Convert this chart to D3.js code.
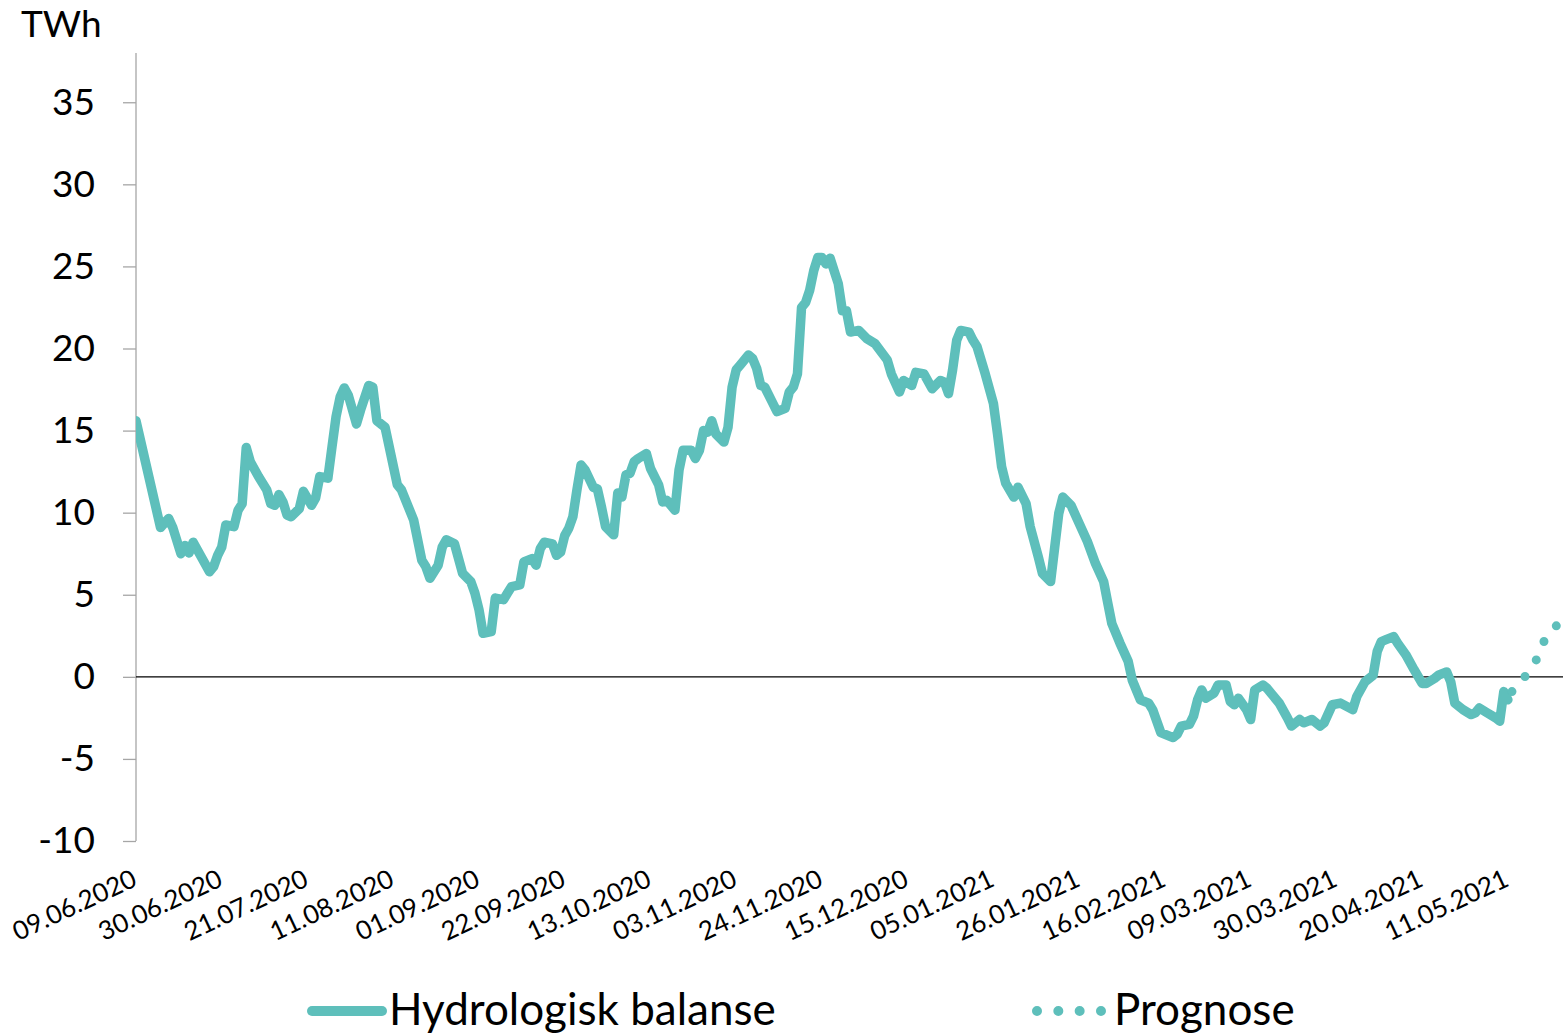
<!DOCTYPE html>
<html>
<head>
<meta charset="utf-8">
<script src="https://cdn.jsdelivr.net/npm/d3@7"></script>
<style>
  html, body { margin: 0; padding: 0; background: #fff; }
  svg { display: block; font-family: Lato, "Open Sans", sans-serif; }
</style>
</head>
<body>
<svg id="chart" width="1563" height="1034"></svg>
<script>
// ---------- data ----------
const startDate = "09.06.2020";
const hydroDays = [0,6,8,9,11,12,13,14,16,18,19,20,21,22,24,25,26,27,28,30,32,33,34,35,36,37,38,40,41,43,44,45,47,48,49,50,51,52,54,55,57,58,59,61,64,65,68,70,71,72,74,75,76,78,80,82,83,84,85,87,88,90,91,92,94,95,97,98,99,100,102,103,104,105,106,107,108,109,110,112,113,114,115,117,118,119,120,121,122,123,125,126,128,129,130,132,133,134,136,137,138,139,140,141,142,144,145,146,147,148,150,151,152,153,154,156,157,159,160,161,162,163,164,165,166,167,168,169,170,172,173,174,175,177,179,181,184,185,187,188,190,191,193,195,197,198,199,200,201,202,204,205,206,208,210,211,212,213,215,216,218,219,221,222,224,226,227,229,231,233,235,237,238,239,241,243,244,246,248,249,250,251,254,255,256,258,259,260,261,262,264,265,267,268,269,270,272,273,274,276,277,278,280,282,283,285,286,288,290,291,293,295,298,299,301,303,304,305,306,308,309,311,313,315,316,318,319,321,322,323,325,327,328,329,331,333,334,335,336];
const hydroValues = [15.6,9.1,9.65,9.1,7.5,8.0,7.55,8.2,7.3,6.4,6.7,7.4,7.9,9.25,9.15,10.15,10.55,13.97,13.1,12.2,11.4,10.55,10.45,11.1,10.65,9.85,9.75,10.25,11.3,10.45,10.9,12.2,12.1,14.0,15.85,17.05,17.6,17.15,15.4,16.25,17.75,17.65,15.6,15.2,11.7,11.4,9.55,7.1,6.7,6.0,6.8,7.9,8.35,8.1,6.3,5.8,5.1,4.1,2.65,2.75,4.8,4.7,5.1,5.5,5.6,7.0,7.2,6.8,7.8,8.2,8.1,7.4,7.6,8.6,9.05,9.75,11.4,12.9,12.6,11.55,11.45,10.35,9.15,8.65,11.2,10.95,12.3,12.4,13.1,13.3,13.6,12.7,11.7,10.65,10.75,10.15,12.6,13.8,13.8,13.3,13.8,15.0,14.9,15.6,14.8,14.3,15.2,17.65,18.7,19.0,19.6,19.4,18.8,17.75,17.65,16.65,16.15,16.35,17.35,17.65,18.45,22.5,22.8,23.55,24.75,25.55,25.55,25.15,25.5,23.95,22.3,22.3,21.0,21.1,20.6,20.3,19.3,18.45,17.35,18.05,17.75,18.55,18.45,17.55,18.05,17.95,17.25,18.7,20.5,21.1,21.0,20.5,20.1,18.45,16.65,14.8,12.8,11.8,10.95,11.55,10.55,9.15,7.3,6.3,5.8,9.95,10.95,10.45,9.35,8.25,6.9,5.8,4.5,3.25,2.05,0.95,-0.2,-1.4,-1.6,-2.0,-2.7,-3.4,-3.7,-3.5,-3.0,-2.9,-2.4,-1.4,-0.8,-1.3,-1.0,-0.5,-0.5,-1.5,-1.7,-1.3,-2.0,-2.6,-0.8,-0.5,-0.7,-1.0,-1.6,-2.5,-3.0,-2.6,-2.8,-2.6,-3.0,-2.8,-1.7,-1.6,-2.0,-1.2,-0.3,0.1,1.55,2.15,2.25,2.45,2.05,1.35,0.45,-0.4,-0.4,-0.1,0.1,0.3,-0.3,-1.6,-2.0,-2.3,-2.2,-1.9,-2.2,-2.5,-2.7,-0.9,-1.4];
const prognoseDays = [337,340,343,345,348,349];
const prognoseValues = [-0.9,-0.05,1.05,2.25,3.15,3.35];
const xTickLabels = ["09.06.2020","30.06.2020","21.07.2020","11.08.2020","01.09.2020","22.09.2020","13.10.2020","03.11.2020","24.11.2020","15.12.2020","05.01.2021","26.01.2021","16.02.2021","09.03.2021","30.03.2021","20.04.2021","11.05.2021"];
const yTicks = [-10,-5,0,5,10,15,20,25,30,35];
const yDomain = [-10, 38];
const xSpanDays = 349.5;
const seriesNames = ["Hydrologisk balanse", "Prognose"];
const unitLabel = "TWh";

// ---------- setup ----------
const color = "#5ebfbb";
const svg = d3.select("#chart");
const parse = d3.utcParse("%d.%m.%Y");
const t0 = parse(startDate);
const dayToDate = d => new Date(t0.getTime() + d * 864e5);

const plot = { left: 136, right: 1563, top: 53, bottom: 841 };
const x = d3.scaleUtc().domain([t0, dayToDate(xSpanDays)]).range([plot.left, plot.right]);
const y = d3.scaleLinear().domain(yDomain).range([plot.bottom, plot.top]);

const hydro = hydroDays.map((d, i) => ({ date: dayToDate(d), value: hydroValues[i] }));
const prog = prognoseDays.map((d, i) => ({ date: dayToDate(d), value: prognoseValues[i] }));

svg.append("defs").append("clipPath").attr("id", "clip")
  .append("rect").attr("x", plot.left).attr("y", 0)
  .attr("width", plot.right - plot.left + 10).attr("height", 1034);

// y axis
const yAxis = svg.append("g")
  .attr("transform", `translate(${plot.left},0)`)
  .call(d3.axisLeft(y).tickValues(yTicks).tickSize(13).tickPadding(28).tickSizeOuter(0)
    .tickFormat(d => String(d)));
yAxis.select(".domain").attr("stroke", "#a6a6a6").attr("stroke-width", 1.3)
  .attr("d", `M0,${plot.top}V${plot.bottom}`);
yAxis.selectAll(".tick line").attr("stroke", "#a6a6a6").attr("stroke-width", 1.3);
yAxis.selectAll(".tick text").attr("font-size", 37).attr("fill", "#000")
  .attr("font-family", "Lato, sans-serif");

// zero line
svg.append("line")
  .attr("x1", plot.left).attr("x2", plot.right)
  .attr("y1", y(0)).attr("y2", y(0))
  .attr("stroke", "#000").attr("stroke-width", 1.4);

// x axis labels
const xAxis = svg.append("g")
  .attr("transform", `translate(0,${plot.bottom})`)
  .call(d3.axisBottom(x).tickValues(xTickLabels.map(parse)).tickSize(0)
    .tickFormat(d3.utcFormat("%d.%m.%Y")));
xAxis.select(".domain").remove();
xAxis.selectAll(".tick text")
  .attr("font-size", 26).attr("fill", "#000").attr("font-family", "Lato, sans-serif")
  .attr("text-anchor", "end").attr("x", 0).attr("y", 0).attr("dy", 0)
  .attr("transform", "translate(2,44) rotate(-25)");

// lines
const line = d3.line().x(d => x(d.date)).y(d => y(d.value));
const g = svg.append("g").attr("clip-path", "url(#clip)");
g.append("path").datum(hydro)
  .attr("d", line).attr("fill", "none").attr("stroke", color)
  .attr("stroke-width", 9.5).attr("stroke-linejoin", "round").attr("stroke-linecap", "round");
g.append("path").datum(prog)
  .attr("d", line).attr("fill", "none").attr("stroke", color)
  .attr("stroke-width", 9).attr("stroke-linecap", "round")
  .attr("stroke-dasharray", "0 20");

// unit label
svg.append("text").attr("x", 21).attr("y", 37).attr("font-size", 37)
  .attr("font-family", "Lato, sans-serif").text(unitLabel);

// legend
const lg = svg.append("g");
lg.append("line").attr("x1", 312).attr("x2", 382).attr("y1", 1011).attr("y2", 1011)
  .attr("stroke", color).attr("stroke-width", 10).attr("stroke-linecap", "round");
lg.append("text").attr("x", 389).attr("y", 1025).attr("font-size", 44)
  .attr("font-family", "Lato, sans-serif").text(seriesNames[0]);
lg.append("line").attr("x1", 1037).attr("x2", 1101).attr("y1", 1011).attr("y2", 1011)
  .attr("stroke", color).attr("stroke-width", 10).attr("stroke-linecap", "round")
  .attr("stroke-dasharray", "0 21.33");
lg.append("text").attr("x", 1114).attr("y", 1025).attr("font-size", 44)
  .attr("font-family", "Lato, sans-serif").text(seriesNames[1]);
</script>
</body>
</html>
